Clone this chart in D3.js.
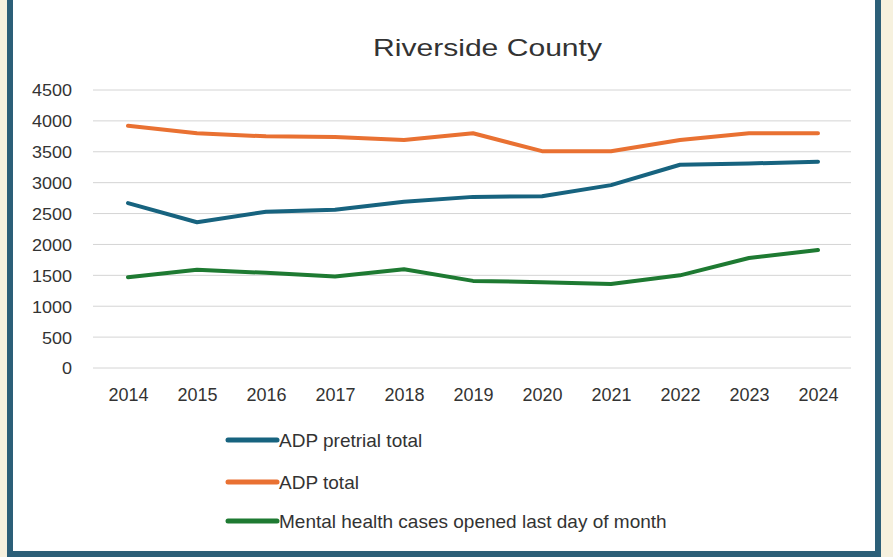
<!DOCTYPE html>
<html><head><meta charset="utf-8">
<script src="https://cdn.jsdelivr.net/npm/d3@7"></script>
<style>
html,body{margin:0;padding:0;background:#f6f1de;}
svg{display:block;}
</style></head><body>
<svg id="c" width="893" height="557"></svg>
<script>
const years = ["2014","2015","2016","2017","2018","2019","2020","2021","2022","2023","2024"];
const adpPretrial = [2670,2360,2530,2560,2690,2770,2780,2960,3290,3310,3340];
const adpTotal = [3920,3800,3750,3740,3690,3800,3510,3510,3690,3800,3800];
const mentalHealth = [1470,1590,1540,1480,1600,1410,1390,1360,1500,1780,1910];
const yTicks = [0,500,1000,1500,2000,2500,3000,3500,4000,4500];
const seriesNames = ["ADP pretrial total","ADP total","Mental health cases opened last day of month"];
const seriesColors = ["#17637f","#e97132","#1e7a32"];
const seriesData = [adpPretrial, adpTotal, mentalHealth];

const svg = d3.select("#c");
svg.append("rect").attr("x",10).attr("y",-3).attr("width",868).attr("height",557)
  .attr("fill","#ffffff").attr("stroke","#2c5f78").attr("stroke-width",6);

const font = "'Liberation Sans',Arial,sans-serif";

svg.append("text").attr("x",373).attr("y",56)
  .attr("font-family",font).attr("font-size",24).attr("fill","#333")
  .attr("textLength",229).attr("lengthAdjust","spacingAndGlyphs")
  .text("Riverside County");

const x = d3.scalePoint().domain(years).range([128,818]);
const y = d3.scaleLinear().domain([0,4500]).range([368,90]);

svg.append("g").selectAll("line").data(yTicks).join("line")
  .attr("x1",93).attr("x2",851).attr("y1",d=>y(d)).attr("y2",d=>y(d))
  .attr("stroke","#d4d4d4").attr("stroke-width",1);

const yAxis = svg.append("g").attr("transform","translate(93,0)")
  .call(d3.axisLeft(y).tickValues(yTicks).tickFormat(d3.format("d")).tickSize(0).tickPadding(21));
yAxis.select(".domain").remove();
yAxis.selectAll("text").attr("font-family",font).attr("font-size",18).attr("fill","#333")
  .attr("transform","scale(1,0.92)").attr("dy","0.36em");

const xAxis = svg.append("g").attr("transform","translate(0,384)")
  .call(d3.axisBottom(x).tickSize(0).tickPadding(4));
xAxis.select(".domain").remove();
xAxis.selectAll("text").attr("font-family",font).attr("font-size",18).attr("fill","#333");

const line = d3.line().x((d,i)=>x(years[i])).y(d=>y(d));
seriesData.forEach((s,k)=>{
  svg.append("path").datum(s).attr("d",line).attr("fill","none")
    .attr("stroke",seriesColors[k]).attr("stroke-width",4)
    .attr("stroke-linejoin","round").attr("stroke-linecap","round");
});

const legY = [440,482,521];
seriesNames.forEach((n,k)=>{
  svg.append("line").attr("x1",228).attr("x2",277).attr("y1",legY[k]).attr("y2",legY[k])
    .attr("stroke",seriesColors[k]).attr("stroke-width",5).attr("stroke-linecap","round");
  svg.append("text").attr("x",279).attr("y",legY[k]+7).attr("font-family",font)
    .attr("font-size",19).attr("fill","#333").text(n);
});
</script>
</body></html>
